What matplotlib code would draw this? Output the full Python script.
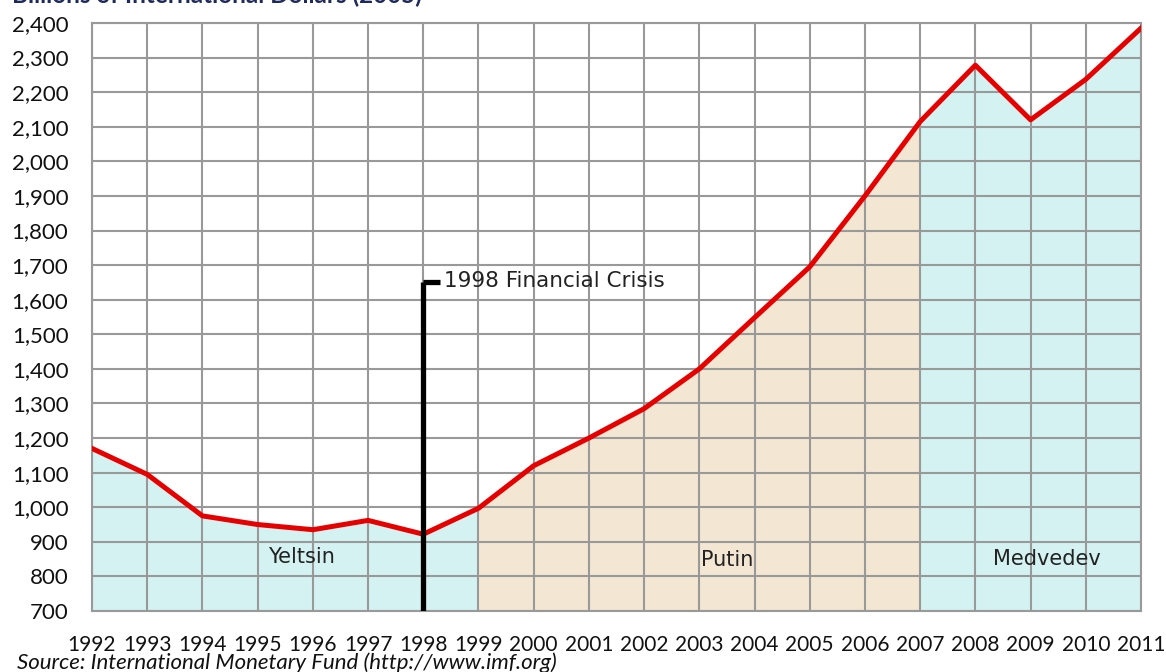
import matplotlib.pyplot as plt

years = list(range(1992, 2012))
gdp = [1170, 1095, 975, 950, 935, 962, 922, 997, 1120, 1200,
       1285, 1400, 1548, 1695, 1900, 2115, 2278, 2120, 2237, 2385]

periods = [("Yeltsin", 1992, 1999), ("Putin", 1999, 2007), ("Medvedev", 2007, 2011)]
period_colors = ["#d4f2f2", "#f3e6d2", "#d4f2f2"]
period_label_pos = [(1995.8, 855), (2003.5, 848), (2009.3, 850)]

crisis_year = 1998
crisis_top = 1650
crisis_label = "1998 Financial Crisis"

y_min, y_max = 700, 2400
y_ticks = list(range(700, 2401, 100))

fig = plt.figure(figsize=(11.66, 6.72), dpi=100)
ax = fig.add_axes([92 / 1166, 1 - 611 / 672, (1141 - 92) / 1166, (611 - 23) / 672])

# shaded areas under the line for each presidency
for (name, start, end), color, (lx, ly) in zip(periods, period_colors, period_label_pos):
    xs = [y for y in years if start <= y <= end]
    vs = [gdp[years.index(y)] for y in xs]
    ax.fill_between(xs, y_min, vs, color=color, zorder=1, linewidth=0)
    ax.text(lx, ly, name, ha="center", va="center", fontsize=15,
            family="DejaVu Sans", color="#222222", zorder=5)

ax.set_xlim(years[0], years[-1])
ax.set_ylim(y_min, y_max)
ax.set_xticks(years)
ax.set_yticks(y_ticks)
ax.set_xticklabels([str(y) for y in years])
ax.set_yticklabels([f"{v:,}" for v in y_ticks])
ax.grid(True, color="#999999", linewidth=1.5, zorder=2)
ax.set_axisbelow(False)
for sp in ax.spines.values():
    sp.set_color("#999999")
    sp.set_linewidth(1.5)
ax.tick_params(length=0)
ax.tick_params(axis="x", pad=17, labelsize=15)
ax.tick_params(axis="y", pad=17, labelsize=16)
for lab in ax.get_xticklabels() + ax.get_yticklabels():
    lab.set_family("Lato")
    lab.set_color("#111111")

ax.plot(years, gdp, color="#e60000", linewidth=3.6, zorder=4, solid_joinstyle="round")

# crisis marker
ax.plot([crisis_year, crisis_year], [y_min, crisis_top], color="black", linewidth=3.8,
        zorder=5, solid_capstyle="butt")
ax.plot([crisis_year, crisis_year + 0.3], [crisis_top, crisis_top], color="black",
        linewidth=3.8, zorder=5, solid_capstyle="butt")
ax.text(crisis_year + 0.38, crisis_top + 5, crisis_label, ha="left", va="center",
        fontsize=15.5, family="DejaVu Sans", color="#222222", zorder=5)

fig.text(12 / 1166, 1 - 3 / 672, "Billions of International Dollars (2005)",
         ha="left", va="baseline", fontsize=17.5, fontweight="bold",
         color="#1f2a5c", family="Lato")
fig.text(17 / 1166, 1 - 663 / 672, "Source: International Monetary Fund (http://www.imf.org)",
         ha="left", va="center", fontsize=16, style="italic", color="#111111", family="Lato")

fig.savefig("out.png", dpi=100)
